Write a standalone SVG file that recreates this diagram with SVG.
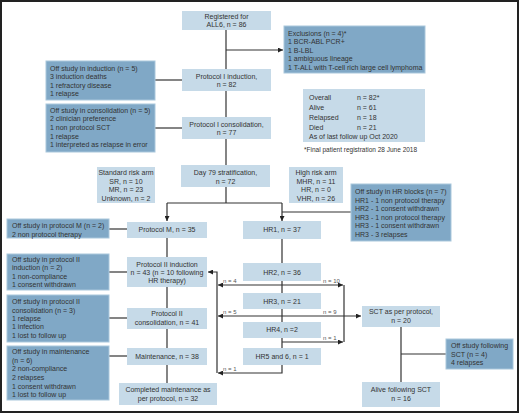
<svg xmlns="http://www.w3.org/2000/svg" width="520" height="414" viewBox="0 0 520 414">
<defs>
<style>
text{font-family:"Liberation Sans",Arial,sans-serif;font-size:7px;fill:#333}
.c{text-anchor:middle}
.s{font-size:6px;fill:#555}
.lt{fill:#C6DAE8}
.dk{fill:#80A8C6;stroke:#A9C7DC;stroke-width:1}
.ln{fill:none;stroke:#333;stroke-width:1.2}
</style>
<marker id="ah" viewBox="0 0 10 10" refX="10" refY="5" markerUnits="userSpaceOnUse" markerWidth="5" markerHeight="5" orient="auto-start-reverse"><path d="M0,0 L10,5 L0,10 z" fill="#222"/></marker>
</defs>
<rect x="1" y="1" width="517" height="411" fill="#fff" stroke="#222" stroke-width="2"/>
<g id="connectors" class="ln">
<path d="M226 30 V69"/>
<path d="M226 50 H283" marker-end="url(#ah)"/>
<path d="M226 91 V117"/>
<path d="M226 139 V165"/>
<path d="M226 187 V203"/>
<path d="M155 80 H182"/>
<path d="M155 128 H182"/>
<path d="M167 203 H282"/>
<path d="M167 203 V221" marker-end="url(#ah)"/>
<path d="M282 203 V221" marker-end="url(#ah)"/>
<path d="M351 212 H282"/>
<path d="M109 229 H127"/>
<path d="M167 238 V257"/>
<path d="M167 287 V308"/>
<path d="M167 329 V348"/>
<path d="M167 365 V383"/>
<path d="M109 272 H127"/>
<path d="M109 318 H127"/>
<path d="M109 356 H127"/>
<path d="M282 239 V373 H218" marker-end="url(#ah)"/>
<path d="M217 373 V272 H208" marker-end="url(#ah)"/>
<path d="M218 285 H343" marker-start="url(#ah)" marker-end="url(#ah)"/>
<path d="M218 316 H361" marker-start="url(#ah)" marker-end="url(#ah)"/>
<path d="M282 342 H343" marker-end="url(#ah)"/>
<path d="M344 285 V342"/>
<path d="M401 327 V382"/>
<path d="M401 354 H446"/>
</g>
<g id="n_labels">
<text class="s" x="223" y="283">n = 4</text>
<text class="s" x="223" y="314">n = 5</text>
<text class="s" x="223" y="370.5">n = 1</text>
<text class="s" x="323" y="283">n = 10</text>
<text class="s" x="323" y="314">n = 9</text>
<text class="s" x="323" y="340">n = 1</text>
</g>
<g id="registered"><rect class="lt" x="182" y="11" width="89" height="19"/>
<text class="c" x="226.5" y="18.5">Registered for</text><text class="c" x="226.5" y="27">ALL6, n = 86</text></g>
<g id="exclusions"><rect class="dk" x="284" y="26" width="141" height="47"/>
<text x="288" y="35.8">Exclusions (n = 4)*</text><text x="288" y="44.3">1 BCR-ABL PCR+</text><text x="288" y="52.8">1 B-LBL</text><text x="288" y="61.3">1 ambiguous lineage</text><text x="288" y="69.8">1 T-ALL with T-cell rich large cell lymphoma</text></g>
<g id="p1induction"><rect class="lt" x="182" y="69" width="89" height="22"/>
<text class="c" x="226.5" y="78.5">Protocol I induction,</text><text class="c" x="226.5" y="87.3">n = 82</text></g>
<g id="offinduction"><rect class="dk" x="46" y="61" width="109" height="39"/>
<text x="50" y="70.5">Off study in induction (n = 5)</text><text x="50" y="79">3 induction deaths</text><text x="50" y="87.5">1 refractory disease</text><text x="50" y="96">1 relapse</text></g>
<g id="offconsolidation"><rect class="dk" x="46" y="104" width="109" height="48"/>
<text x="50" y="112.5">Off study in consolidation (n = 5)</text><text x="50" y="121.2">2 clinician preference</text><text x="50" y="129.9">1 non protocol SCT</text><text x="50" y="138.6">1 relapse</text><text x="50" y="147.3">1 interpreted as relapse in error</text></g>
<g id="p1consolidation"><rect class="lt" x="182" y="117" width="89" height="22"/>
<text class="c" x="226.5" y="126.5">Protocol I consolidation,</text><text class="c" x="226.5" y="135.2">n = 77</text></g>
<g id="overall"><rect class="lt" x="303" y="89" width="122" height="53"/>
<text x="309" y="99.8">Overall</text><text x="357" y="99.8">n = 82*</text>
<text x="309" y="109.8">Alive</text><text x="357" y="109.8">n = 61</text>
<text x="309" y="119.8">Relapsed</text><text x="357" y="119.8">n = 18</text>
<text x="309" y="129.8">Died</text><text x="357" y="129.8">n = 21</text>
<text x="309" y="138.5">As of last follow up Oct 2020</text></g>
<g id="footnote"><text x="304" y="151.5" style="font-size:6.5px">*Final patient registration 28 June 2018</text></g>
<g id="standardrisk"><rect class="lt" x="97" y="167" width="58" height="36"/>
<text class="c" x="126" y="175.2">Standard risk arm</text><text class="c" x="126" y="183.8">SR, n = 10</text><text class="c" x="126" y="192.4">MR, n = 23</text><text class="c" x="126" y="201">Unknown, n = 2</text></g>
<g id="day79"><rect class="lt" x="181" y="165" width="89" height="22"/>
<text class="c" x="225.5" y="175.2">Day 79 stratification,</text><text class="c" x="225.5" y="183.7">n = 72</text></g>
<g id="highrisk"><rect class="lt" x="289" y="167" width="54" height="36"/>
<text class="c" x="316" y="175.2">High risk arm</text><text class="c" x="316" y="183.8">MHR, n = 11</text><text class="c" x="316" y="192.4">HR, n = 0</text><text class="c" x="316" y="201">VHR, n = 26</text></g>
<g id="offhr"><rect class="dk" x="351" y="184" width="100" height="57"/>
<text x="355" y="194.2">Off study in HR blocks (n = 7)</text><text x="355" y="202.7">HR1 - 1 non protocol therapy</text><text x="355" y="211.2">HR2 - 1 consent withdrawn</text><text x="355" y="219.7">HR3 - 1 non protocol therapy</text><text x="355" y="228.2">HR3 - 1 consent withdrawn</text><text x="355" y="236.7">HR3 - 3 relapses</text></g>
<g id="offprotm"><rect class="dk" x="7" y="219" width="102" height="19"/>
<text x="12" y="228.2">Off study in protocol M (n = 2)</text><text x="12" y="236.6">2 non protocol therapy</text></g>
<g id="protm"><rect class="lt" x="127" y="222" width="80" height="16"/>
<text class="c" x="167" y="231.8">Protocol M, n = 35</text></g>
<g id="hr1"><rect class="lt" x="243" y="221" width="78" height="18"/>
<text class="c" x="282" y="231.8">HR1, n = 37</text></g>
<g id="offp2induction"><rect class="dk" x="7" y="254" width="102" height="36"/>
<text x="12" y="261.5">Off study in protocol II</text><text x="12" y="270">induction (n = 2)</text><text x="12" y="278.5">1 non-compliance</text><text x="12" y="287">1 consent withdrawn</text></g>
<g id="p2induction"><rect class="lt" x="127" y="257" width="80" height="30"/>
<text class="c" x="167" y="266.5">Protocol II induction</text><text class="c" x="167" y="274.9">n = 43 (n = 10 following</text><text class="c" x="167" y="283.3">HR therapy)</text></g>
<g id="hr2"><rect class="lt" x="243" y="263" width="78" height="18"/>
<text class="c" x="282" y="274.8">HR2, n = 36</text></g>
<g id="hr3"><rect class="lt" x="243" y="293" width="78" height="16"/>
<text class="c" x="282" y="303.5">HR3, n = 21</text></g>
<g id="hr4"><rect class="lt" x="243" y="322" width="78" height="16"/>
<text class="c" x="282" y="331.8">HR4, n =2</text></g>
<g id="hr56"><rect class="lt" x="243" y="348" width="78" height="17"/>
<text class="c" x="282" y="359.2">HR5 and 6, n = 1</text></g>
<g id="offp2consolidation"><rect class="dk" x="7" y="295" width="102" height="47"/>
<text x="12" y="304.2">Off study in protocol II</text><text x="12" y="312.6">consolidation (n = 3)</text><text x="12" y="321">1 relapse</text><text x="12" y="329.4">1 infection</text><text x="12" y="337.8">1 lost to follow up</text></g>
<g id="p2consolidation"><rect class="lt" x="127" y="308" width="80" height="21"/>
<text class="c" x="167" y="315.8">Protocol II</text><text class="c" x="167" y="324.8">consolidation, n = 41</text></g>
<g id="sct"><rect class="lt" x="362" y="306" width="78" height="21"/>
<text class="c" x="401" y="314.2">SCT as per protocol,</text><text class="c" x="401" y="323.2">n = 20</text></g>
<g id="offmaintenance"><rect class="dk" x="7" y="346" width="102" height="54"/>
<text x="12" y="354.2">Off study in maintenance</text><text x="12" y="362.8">(n = 6)</text><text x="12" y="371.4">2 non-compliance</text><text x="12" y="380">2 relapses</text><text x="12" y="388.6">1 consent withdrawn</text><text x="12" y="397.2">1 lost to follow up</text></g>
<g id="maintenance"><rect class="lt" x="127" y="348" width="80" height="17"/>
<text class="c" x="167" y="358.5">Maintenance, n = 38</text></g>
<g id="completed"><rect class="lt" x="119" y="383" width="98" height="22"/>
<text class="c" x="168" y="392.2">Completed maintenance as</text><text class="c" x="168" y="400.8">per protocol, n = 32</text></g>
<g id="offsct"><rect class="dk" x="446" y="339" width="67" height="30"/>
<text x="451" y="348.2">Off study following</text><text x="451" y="356.6">SCT (n = 4)</text><text x="451" y="365">4 relapses</text></g>
<g id="alivesct"><rect class="lt" x="362" y="382" width="78" height="25"/>
<text class="c" x="401" y="391.8">Alive following SCT</text><text class="c" x="401" y="400.5">n = 16</text></g>
</svg>
